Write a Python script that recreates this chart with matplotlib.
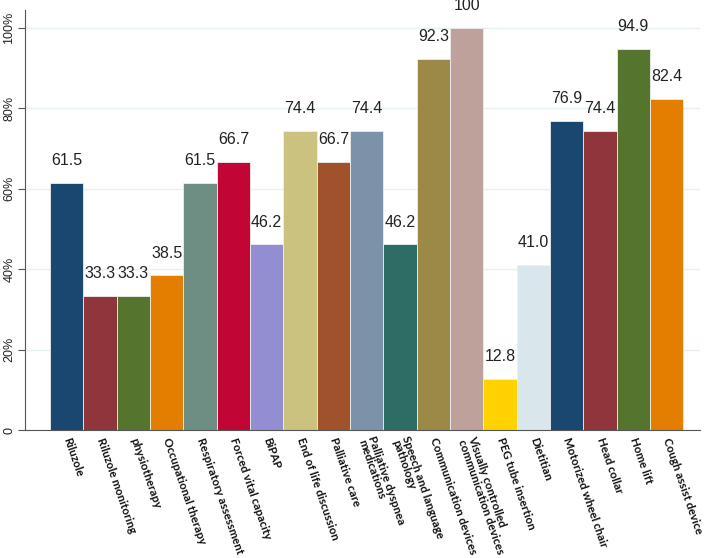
import matplotlib
matplotlib.use("Agg")
import matplotlib.pyplot as plt
import numpy as np

categories = ["Riluzole", "Riluzole monitoring", "physiotherapy", "Occupational therapy",
              "Respiratory assessment", "Forced vital capacity", "BiPAP", "End of life discussion",
              "Palliative care", "Palliative dyspnea\nmedications", "Speech and language\npathology",
              "Communication devices", "Visually controlled\ncommunication devices",
              "PEG tube insertion", "Dietitian", "Motorized wheel chair", "Head collar",
              "Home lift", "Cough assist device"]
values = [61.5, 33.3, 33.3, 38.5, 61.5, 66.7, 46.2, 74.4, 66.7, 74.4, 46.2, 92.3, 100,
          12.8, 41.0, 76.9, 74.4, 94.9, 82.4]
value_labels = ["61.5", "33.3", "33.3", "38.5", "61.5", "66.7", "46.2", "74.4", "66.7", "74.4",
                "46.2", "92.3", "100", "12.8", "41.0", "76.9", "74.4", "94.9", "82.4"]
colors = ["#1a476f", "#90353b", "#55752f", "#e37e00", "#6e8e84", "#c10534", "#938dd2",
          "#cac27e", "#a0522d", "#7b92a8", "#2d6d66", "#9c8847", "#bfa19c", "#ffd200",
          "#d9e6eb", "#1a476f", "#90353b", "#55752f", "#e37e00"]
yticks = [0, 20, 40, 60, 80, 100]
ytick_labels = ["0", "20%", "40%", "60%", "80%", "100%"]

fig = plt.figure(figsize=(7.09, 5.58), dpi=100)
ax = fig.add_axes([25/709, (558-430)/558, (700-25)/709, (430-10)/558])

x = np.arange(len(values))
ax.bar(x, values, width=1.0, color=colors, edgecolor="#eeeeee", linewidth=0.6, zorder=2)

for xi, v, lab in zip(x, values, value_labels):
    ax.annotate(lab, (xi, v), xytext=(0, 16), textcoords="offset points",
                ha="center", va="center", fontsize=11.5, family="Liberation Sans",
                color="#222222")

ax.set_xlim(-1.25, len(values) - 0.5 + 0.5)
ax.set_ylim(0, 104.5)
ax.set_yticks(yticks)
ax.set_yticklabels(ytick_labels, rotation=90, va="center", fontsize=9,
                   family="Liberation Sans", color="#222222")
ax.yaxis.grid(True, color="#e6eff2", linewidth=1.0, zorder=0)
ax.set_axisbelow(True)

ax.set_xticks(x)
ax.set_xticklabels(categories, rotation=-71, ha="left", va="center",
                   rotation_mode="anchor", fontsize=8.3, family="Lato",
                   fontweight="bold", linespacing=0.95, color="#111111")
ax.tick_params(axis="x", length=0, pad=6)
ax.tick_params(axis="y", length=5, width=0.8, color="#555555", pad=2)

for s in ["top", "right"]:
    ax.spines[s].set_visible(False)
ax.spines["left"].set_color("#555555")
ax.spines["bottom"].set_color("#555555")
ax.spines["left"].set_linewidth(0.8)
ax.spines["bottom"].set_linewidth(0.8)

fig.savefig("out.png", dpi=100)
